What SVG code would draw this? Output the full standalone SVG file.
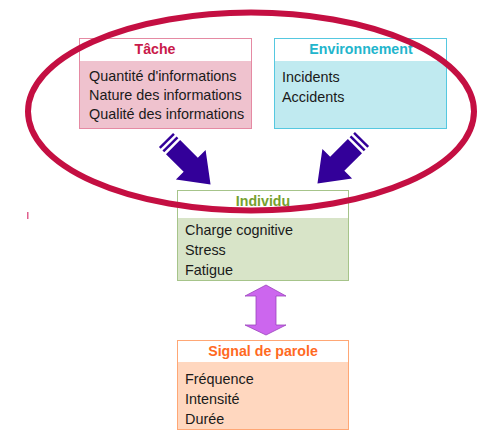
<svg xmlns="http://www.w3.org/2000/svg" width="480" height="431" viewBox="0 0 480 431">
  <defs>
    <style>
      text { font-family: "Liberation Sans", Arial, sans-serif; font-size: 14.4px; fill: #1a1a1a; }
      .title { font-weight: bold; text-anchor: middle; font-size: 14.2px; }
      .hdr { fill: #ffffff; }
    </style>
    <!-- striped block arrow pointing along +x, tail at origin -->
    <g id="striped-arrow">
      <rect x="0" y="-10" width="2.5" height="20" fill="#330099"/>
      <rect x="5" y="-10" width="2.5" height="20" fill="#330099"/>
      <polygon points="10,-10 35,-10 35,-21 63,0 35,21 35,10 10,10" fill="#330099"/>
    </g>
  </defs>
  <rect width="480" height="431" fill="#ffffff"/>

  <g id="tache">
    <rect x="79.5" y="38.5" width="172" height="90" fill="#efc2ce" stroke="#e58aa3"/>
    <rect x="80" y="39" width="171" height="22" class="hdr"/>
    <text class="title" x="155" y="54" style="fill:#c91a4a">Tâche</text>
    <text x="89" y="81">Quantité d'informations</text>
    <text x="89" y="100">Nature des informations</text>
    <text x="89" y="119">Qualité des informations</text>
  </g>

  <g id="environnement">
    <rect x="274.5" y="38.5" width="172" height="90" fill="#c0eaf0" stroke="#55c8e0"/>
    <rect x="275" y="39" width="171" height="22" class="hdr"/>
    <text class="title" x="361" y="54" style="fill:#22b5cc">Environnement</text>
    <text x="282" y="82">Incidents</text>
    <text x="282" y="102">Accidents</text>
  </g>

  <g id="individu">
    <rect x="177.5" y="190.5" width="171" height="90" fill="#d8e4c8" stroke="#a6c48a"/>
    <rect x="178" y="191" width="170" height="27" class="hdr"/>
    <text class="title" x="263" y="206" style="fill:#76a02e">Individu</text>
    <text x="185" y="235">Charge cognitive</text>
    <text x="185" y="255">Stress</text>
    <text x="185" y="275">Fatigue</text>
  </g>

  <g id="signal">
    <rect x="177.5" y="340.5" width="171" height="89" fill="#ffd7bf" stroke="#ffa775"/>
    <rect x="178" y="341" width="170" height="21" class="hdr"/>
    <text class="title" x="263" y="356" style="fill:#ff6a1f">Signal de parole</text>
    <text x="185" y="384">Fréquence</text>
    <text x="185" y="404">Intensité</text>
    <text x="185" y="424">Durée</text>
  </g>

  <g id="connectors">
    <!-- grouping ellipse around the task and environment factors -->
    <ellipse cx="251" cy="111.5" rx="223" ry="99" fill="none" stroke="#c40f42" stroke-width="6"/>
    <use href="#striped-arrow" transform="translate(166,140) rotate(45)"/>
    <use href="#striped-arrow" transform="translate(362,139) rotate(135)"/>
    <!-- two-way link between individual and speech signal -->
    <polygon points="266,285 286,296 276,296 276,325 286,325 266,335 245,325 256,325 256,296 245,296" fill="#cc66ee" stroke="#9a44bb" stroke-width="0.8"/>
  </g>

  <rect x="27" y="212" width="1.5" height="7" fill="#e0608e"/>
</svg>
